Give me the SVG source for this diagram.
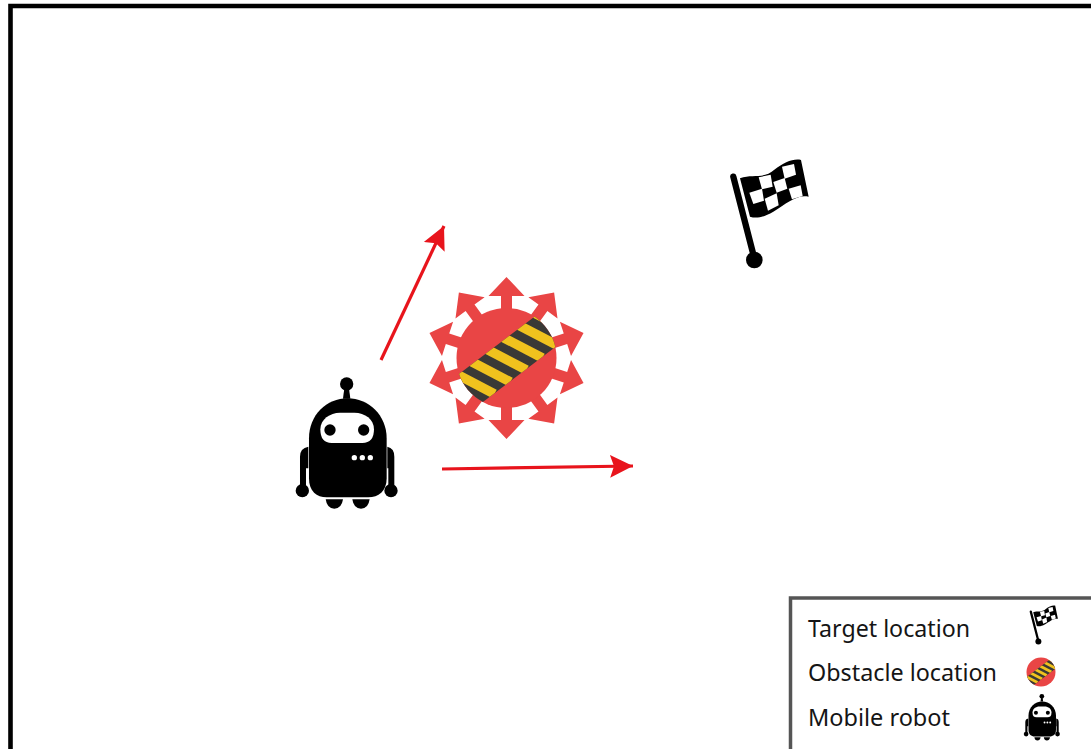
<svg xmlns="http://www.w3.org/2000/svg" xmlns:xlink="http://www.w3.org/1999/xlink" width="1091" height="749" viewBox="0 0 1091 749">
<style>
.lbl{font-family:"Noto Sans","Open Sans",sans-serif;font-size:23px;fill:#151515}
.conn{stroke:#e8141c;stroke-width:3.2;fill:none;marker-end:url(#head)}
.band{stroke:#f0c21e;stroke-width:9.5}
</style>
<defs>
<marker id="head" markerUnits="userSpaceOnUse" markerWidth="26" markerHeight="26" refX="23" refY="13" orient="auto">
<path d="M0,1.5 L23,13 L0,24.5 L4,13 Z" fill="#e8141c"/>
</marker>
<clipPath id="bandclip"><path d="M-70,33 L50,-58 L70,-27 L-50,64 Z"/></clipPath>
<clipPath id="discclip"><circle r="50"/></clipPath>
<g id="disc">
<circle r="50" fill="#e94545"/>
<g clip-path="url(#discclip)"><g clip-path="url(#bandclip)">
<rect x="-60" y="-60" width="120" height="120" fill="#3a3936"/>
<g class="band">
<path d="M-58,12 L-12,36"/><path d="M-42,0 L4,24"/><path d="M-26,-12 L20,12"/><path d="M-10,-24 L36,0"/><path d="M6,-36 L52,-12"/><path d="M22,-48 L68,-24"/>
</g>
</g></g>
</g>
<path id="spike" d="M0,-81 L18,-62 H5.5 V-45 H-5.5 V-62 H-18 Z" fill="#e94545"/>
<g id="robot" fill="#000">
<circle cx="185" cy="42" r="20"/>
<path d="M178,55 H192 L196,86 H174 Z"/>
<path d="M72,205 C72,135 125,85 188,85 C250,85 305,135 305,205 V325 C305,365 280,382 250,382 H125 C95,382 72,365 72,325 Z"/>
<path d="M70,230 Q45,234 45,260 V350 H63 V295 H70 Z"/>
<path d="M307,230 Q328,234 328,260 V350 H310 V295 H307 Z"/>
<circle cx="52" cy="362" r="20"/><circle cx="318" cy="362" r="20"/>
<path d="M122,388 H174 Q170,416 148,416 Q126,416 122,388 Z"/>
<path d="M202,388 H254 Q250,416 228,416 Q206,416 202,388 Z"/>
<path d="M106,178 C106,148 135,128 165,128 H208 C240,128 267,148 267,178 Q267,219 232,219 H140 Q106,219 106,178 Z" fill="#fff"/>
<circle cx="135" cy="180" r="17"/><circle cx="236" cy="180" r="17"/>
<g fill="#fff"><circle cx="208" cy="263" r="8"/><circle cx="232" cy="263" r="8"/><circle cx="256" cy="263" r="8"/></g>
</g>
<g id="flag">
<path d="M40,80 L103,325" stroke="#000" stroke-width="19" stroke-linecap="round" fill="none"/>
<circle cx="103" cy="330" r="25" fill="#000"/>
<path d="M60,85 C100,70 130,90 165,58 C190,38 222,24 243,30 L266,140 C232,132 200,160 160,185 C130,202 110,206 90,200 Z" fill="#000"/>
<g fill="#fff">
<path d="M186,50 L222,42 L228,74 L194,86 Z"/>
<path d="M116,82 L152,74 L158,110 L126,118 Z"/>
<path d="M160,96 L194,84 L202,116 L170,128 Z"/>
<path d="M88,128 L126,116 L132,152 L100,162 Z"/>
<path d="M206,116 L242,106 L248,138 L216,148 Z"/>
<path d="M134,146 L170,130 L176,166 L144,182 Z"/>
</g>
</g>
</defs>
<rect width="1091" height="749" fill="#fff"/>
<path id="frame" d="M10.5,749 V6 H1091" fill="none" stroke="#000" stroke-width="4.6"/>
<g id="connectors">
<path class="conn" d="M381,360 L444,226"/>
<path class="conn" d="M442,469 L633,466"/>
</g>
<g id="obstacle" transform="translate(506.5 358)">
<use xlink:href="#spike"/>
<use xlink:href="#spike" transform="rotate(36)"/>
<use xlink:href="#spike" transform="rotate(72)"/>
<use xlink:href="#spike" transform="rotate(108)"/>
<use xlink:href="#spike" transform="rotate(144)"/>
<use xlink:href="#spike" transform="rotate(180)"/>
<use xlink:href="#spike" transform="rotate(216)"/>
<use xlink:href="#spike" transform="rotate(252)"/>
<use xlink:href="#spike" transform="rotate(288)"/>
<use xlink:href="#spike" transform="rotate(324)"/>
<use xlink:href="#disc"/>
</g>
<g id="mobile-robot" transform="translate(285 370) scale(.3333)"><use xlink:href="#robot"/></g>
<g id="target" transform="translate(720 150) scale(.3333)"><use xlink:href="#flag"/></g>
<g id="legend">
<rect x="790.5" y="598" width="320" height="170" fill="#fff" stroke="#555" stroke-width="3.5"/>
<text class="lbl" x="808" y="637" textLength="162" lengthAdjust="spacingAndGlyphs">Target location</text>
<text class="lbl" x="808" y="681" textLength="189" lengthAdjust="spacingAndGlyphs">Obstacle location</text>
<text class="lbl" x="808" y="726" textLength="142" lengthAdjust="spacingAndGlyphs">Mobile robot</text>
<g transform="translate(1026 602) scale(.12)"><use xlink:href="#flag"/></g>
<g transform="translate(1041 672) scale(.29)"><use xlink:href="#disc"/></g>
<g transform="translate(1020 691.4) scale(.118)"><use xlink:href="#robot"/></g>
</g>
</svg>
